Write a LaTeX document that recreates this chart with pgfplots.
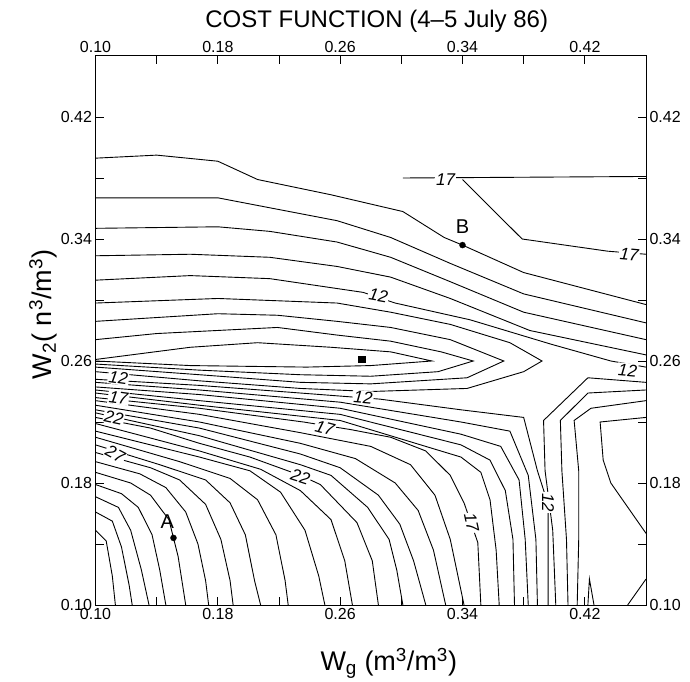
\documentclass[border=0pt]{standalone}
\usepackage{fontspec}
\setmainfont{Liberation Sans}
\usepackage{pgfplots}
\pgfplotsset{compat=1.18}
\begin{document}
\begin{tikzpicture}
\pgfplotsset{
  frame/.style={
    scale only axis, width=550.5pt, height=549pt,
    xmin=0.10, xmax=0.46, ymin=0.10, ymax=0.46,
    xtick={0.10,0.18,0.26,0.34,0.42}, ytick={0.10,0.18,0.26,0.34,0.42},
    xticklabels={0.10,0.18,0.26,0.34,0.42}, yticklabels={0.10,0.18,0.26,0.34,0.42},
    minor xtick={0.14,0.22,0.30,0.38}, minor ytick={0.14,0.22,0.30,0.38},
    tick align=inside, major tick length=8pt, minor tick length=8pt,
    every tick/.style={black, line width=0.9pt},
    axis line style={line width=1pt},
    tick label style={font=\fontsize{16}{16}\selectfont},
  },
  cl/.style={black, line width=0.9pt, mark=none},
}
\tikzset{lab/.style={font=\fontsize{17}{17}\selectfont\itshape, fill=white, inner sep=1pt}}
\begin{axis}[frame, name=main, xtick pos=both, ytick pos=both,
    xticklabel pos=lower, yticklabel pos=left,
    xlabel={W\textsubscript{g} (m\textsuperscript{3}/m\textsuperscript{3})},
    ylabel={W\textsubscript{2}( n\textsuperscript{3}/m\textsuperscript{3})},
    label style={font=\fontsize{27}{27}\selectfont},
    xlabel style={yshift=-22pt, xshift=18pt}, ylabel style={yshift=-3pt, xshift=16pt}]
% upper lines (16 .. 12)
\addplot[cl] coordinates {(0.100,0.393) (0.140,0.395) (0.180,0.391) (0.206,0.379) (0.254,0.369) (0.301,0.358) (0.328,0.341) (0.340,0.336) (0.380,0.318) (0.460,0.297)};
\addplot[cl] coordinates {(0.100,0.367) (0.180,0.367) (0.258,0.352) (0.293,0.341) (0.332,0.324) (0.380,0.304) (0.460,0.285)};
\addplot[cl] coordinates {(0.100,0.347) (0.180,0.348) (0.214,0.345) (0.258,0.338) (0.293,0.328) (0.332,0.312) (0.380,0.292) (0.460,0.274)};
\addplot[cl] coordinates {(0.100,0.329) (0.162,0.330) (0.214,0.328) (0.258,0.322) (0.293,0.315) (0.332,0.301) (0.384,0.280) (0.460,0.264)};
\addplot[cl] coordinates {(0.100,0.313) (0.162,0.316) (0.214,0.314) (0.275,0.305) (0.296,0.298) (0.345,0.287) (0.398,0.271) (0.437,0.260) (0.460,0.256)};
% loops round the minimum
\addplot[cl] coordinates {(0.100,0.298) (0.180,0.301) (0.258,0.298) (0.293,0.292) (0.332,0.284) (0.371,0.272) (0.392,0.260) (0.380,0.253) (0.343,0.242) (0.280,0.240) (0.234,0.242) (0.168,0.247) (0.100,0.253)};
\addplot[cl] coordinates {(0.100,0.286) (0.180,0.291) (0.219,0.290) (0.258,0.286) (0.293,0.282) (0.332,0.274) (0.367,0.260) (0.343,0.249) (0.280,0.245) (0.234,0.246) (0.168,0.251) (0.100,0.256)};
\addplot[cl] coordinates {(0.100,0.274) (0.140,0.278) (0.219,0.282) (0.258,0.277) (0.293,0.273) (0.326,0.266) (0.347,0.260) (0.324,0.253) (0.280,0.250) (0.234,0.251) (0.168,0.254) (0.100,0.258)};
\addplot[cl] coordinates {(0.100,0.261) (0.162,0.269) (0.206,0.272) (0.254,0.269) (0.293,0.266) (0.320,0.260) (0.280,0.257) (0.238,0.256) (0.162,0.257) (0.100,0.260)};
% lower lines (12 .. 33)
\addplot[cl] coordinates {(0.100,0.248) (0.168,0.244) (0.234,0.239) (0.260,0.237) (0.286,0.235) (0.339,0.228) (0.380,0.223) (0.389,0.188) (0.396,0.166) (0.396,0.129) (0.396,0.100)};
\addplot[cl] coordinates {(0.100,0.246) (0.168,0.241) (0.260,0.233) (0.339,0.220) (0.371,0.214) (0.383,0.185) (0.388,0.143) (0.389,0.100)};
\addplot[cl] coordinates {(0.100,0.243) (0.168,0.238) (0.260,0.229) (0.339,0.212) (0.365,0.204) (0.377,0.182) (0.381,0.143) (0.383,0.100)};
\addplot[cl] coordinates {(0.100,0.241) (0.168,0.234) (0.260,0.225) (0.339,0.205) (0.358,0.195) (0.368,0.175) (0.373,0.143) (0.374,0.100)};
\addplot[cl] coordinates {(0.100,0.239) (0.168,0.231) (0.260,0.221) (0.339,0.197) (0.352,0.187) (0.358,0.169) (0.362,0.136) (0.364,0.100)};
\addplot[cl] coordinates {(0.100,0.236) (0.168,0.229) (0.236,0.220) (0.267,0.215) (0.293,0.210) (0.316,0.201) (0.332,0.185) (0.341,0.167) (0.350,0.141) (0.352,0.100)};
\addplot[cl] coordinates {(0.100,0.234) (0.168,0.225) (0.234,0.213) (0.280,0.204) (0.306,0.192) (0.322,0.172) (0.332,0.143) (0.341,0.100)};
\addplot[cl] coordinates {(0.100,0.231) (0.168,0.220) (0.234,0.206) (0.270,0.196) (0.296,0.180) (0.311,0.162) (0.321,0.136) (0.329,0.100)};
\addplot[cl] coordinates {(0.100,0.228) (0.168,0.216) (0.234,0.199) (0.260,0.190) (0.285,0.172) (0.299,0.153) (0.308,0.129) (0.316,0.100)};
\addplot[cl] coordinates {(0.100,0.226) (0.168,0.211) (0.234,0.192) (0.254,0.185) (0.278,0.164) (0.292,0.143) (0.297,0.123) (0.301,0.100)};
\addplot[cl] coordinates {(0.100,0.223) (0.136,0.216) (0.168,0.206) (0.201,0.197) (0.234,0.185) (0.247,0.179) (0.271,0.154) (0.281,0.129) (0.285,0.100)};
\addplot[cl] coordinates {(0.100,0.219) (0.168,0.201) (0.208,0.189) (0.234,0.175) (0.254,0.156) (0.263,0.129) (0.268,0.100)};
\addplot[cl] coordinates {(0.100,0.214) (0.168,0.197) (0.201,0.188) (0.221,0.174) (0.237,0.149) (0.246,0.119) (0.250,0.100)};
\addplot[cl] coordinates {(0.100,0.210) (0.155,0.194) (0.188,0.183) (0.206,0.169) (0.218,0.146) (0.224,0.116) (0.226,0.100)};
\addplot[cl] coordinates {(0.100,0.205) (0.142,0.192) (0.172,0.182) (0.188,0.167) (0.198,0.146) (0.204,0.116) (0.208,0.100)};
\addplot[cl] coordinates {(0.100,0.200) (0.136,0.190) (0.155,0.182) (0.172,0.166) (0.182,0.143) (0.188,0.116) (0.190,0.100)};
\addplot[cl] coordinates {(0.100,0.194) (0.129,0.186) (0.146,0.177) (0.159,0.161) (0.167,0.140) (0.172,0.116) (0.174,0.100)};
\addplot[cl] coordinates {(0.100,0.187) (0.123,0.180) (0.136,0.172) (0.148,0.156) (0.154,0.132) (0.159,0.100)};
\addplot[cl] coordinates {(0.100,0.179) (0.117,0.173) (0.128,0.164) (0.137,0.146) (0.142,0.123) (0.146,0.100)};
\addplot[cl] coordinates {(0.100,0.171) (0.115,0.164) (0.123,0.149) (0.130,0.123) (0.135,0.100)};
\addplot[cl] coordinates {(0.100,0.161) (0.111,0.155) (0.117,0.138) (0.122,0.113) (0.124,0.100)};
\addplot[cl] coordinates {(0.100,0.149) (0.107,0.142) (0.111,0.119) (0.113,0.100)};
% right side, past the saddle
\addplot[cl] coordinates {(0.460,0.246) (0.422,0.249) (0.393,0.221) (0.394,0.188) (0.399,0.149) (0.401,0.100)};
\addplot[cl] coordinates {(0.460,0.241) (0.422,0.239) (0.404,0.221) (0.405,0.188) (0.408,0.143) (0.409,0.100)};
\addplot[cl] coordinates {(0.460,0.234) (0.424,0.229) (0.413,0.221) (0.416,0.188) (0.416,0.143) (0.415,0.100)};
\addplot[cl] coordinates {(0.460,0.223) (0.430,0.220) (0.432,0.195) (0.437,0.180) (0.460,0.147)};
\addplot[cl] coordinates {(0.422,0.100) (0.423,0.117) (0.426,0.100)};
\addplot[cl] coordinates {(0.448,0.100) (0.460,0.117)};
% 17 at the top right
\addplot[cl] coordinates {(0.301,0.380) (0.460,0.381)};
\addplot[cl] coordinates {(0.340,0.379) (0.379,0.340) (0.435,0.332) (0.460,0.330)};
% points
\addplot[only marks, mark=*, mark size=3pt, black] coordinates {(0.151,0.144) (0.340,0.336)};
\addplot[only marks, mark=square*, mark size=3.2pt, black] coordinates {(0.274,0.261)};
% contour labels
\node[lab, rotate=-8] at (axis cs:0.115,0.249) {12};
\node[lab, rotate=-8] at (axis cs:0.115,0.236) {17};
\node[lab, rotate=-12] at (axis cs:0.112,0.223) {22};
\node[lab, rotate=-28] at (axis cs:0.113,0.199) {27};
\node[lab, rotate=-5] at (axis cs:0.275,0.236) {12};
\node[lab, rotate=-15] at (axis cs:0.250,0.216) {17};
\node[lab, rotate=-18] at (axis cs:0.234,0.184) {22};
\node[lab, rotate=-78] at (axis cs:0.346,0.154) {17};
\node[lab, rotate=-90] at (axis cs:0.396,0.167) {12};
\node[lab, rotate=-10] at (axis cs:0.285,0.303) {12};
\node[lab, rotate=-5] at (axis cs:0.448,0.254) {12};
\node[lab] at (axis cs:0.329,0.379) {17};
\node[lab, rotate=-5] at (axis cs:0.449,0.330) {17};
\node[font=\fontsize{20}{20}\selectfont] at (axis cs:0.147,0.155) {A};
\node[font=\fontsize{20}{20}\selectfont] at (axis cs:0.340,0.348) {B};
\end{axis}
\begin{axis}[frame, xtick pos=upper, ytick pos=right,
    xticklabel pos=upper, yticklabel pos=right,
    axis line style={draw=none}, major tick length=0pt, minor tick length=0pt,
    title={COST FUNCTION (4--5 July 86)},
    title style={font=\fontsize{24}{24}\selectfont, yshift=14pt, xshift=6pt}]
\addplot[draw=none] coordinates {(0.2,0.2)};
\end{axis}
\path ([xshift=-95.5pt,yshift=-75pt]main.south west) rectangle ++(690pt,680pt);
\end{tikzpicture}
\end{document}
